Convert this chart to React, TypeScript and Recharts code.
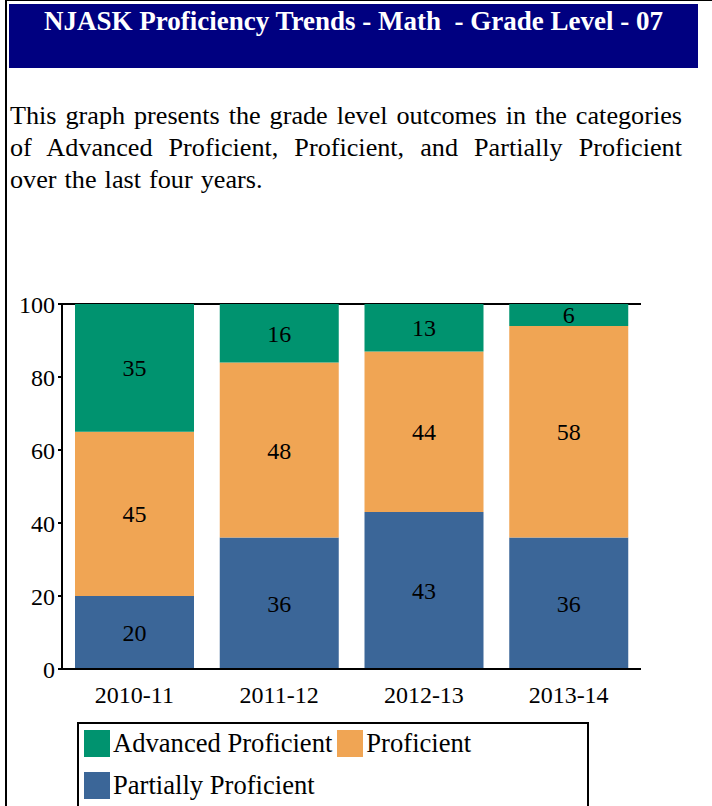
import React from 'react';
import { BarChart, Bar, XAxis, YAxis, CartesianGrid, LabelList, Legend } from 'recharts';

const categories = ['2010-11', '2011-12', '2012-13', '2013-14'];
const partiallyProficient = [20, 36, 43, 36];
const proficient = [45, 48, 44, 58];
const advancedProficient = [35, 16, 13, 6];
const yTicks = [0, 20, 40, 60, 80, 100];

const seriesInfo = [
  { key: 'advanced', name: 'Advanced Proficient', color: '#00936F' },
  { key: 'proficient', name: 'Proficient', color: '#F0A554' },
  { key: 'partial', name: 'Partially Proficient', color: '#3B6698' },
];

const data = categories.map((c, i) => ({
  year: c,
  partial: partiallyProficient[i],
  proficient: proficient[i],
  advanced: advancedProficient[i],
}));

const FONT = "'Liberation Serif', 'Times New Roman', serif";

const LegendBox = () => (
  <div
    style={{
      width: 512,
      height: 90,
      border: '2px solid #000',
      boxSizing: 'border-box',
      fontFamily: FONT,
      fontSize: 26.6,
      color: '#000',
      display: 'flex',
      flexWrap: 'wrap',
      alignContent: 'flex-start',
      paddingTop: 6,
      paddingLeft: 5,
    }}
  >
    {seriesInfo.map((s) => (
      <div key={s.key} style={{ display: 'flex', alignItems: 'center', height: 27, marginRight: 5, marginBottom: 15, whiteSpace: 'nowrap' }}>
        <span style={{ display: 'inline-block', width: 26, height: 27, background: s.color, marginRight: 3 }} />
        <span style={{ lineHeight: '27px' }}>{s.name}</span>
      </div>
    ))}
  </div>
);

export default function App() {
  return (
    <div style={{ position: 'fixed', left: 0, top: 0, width: 712, height: 806, overflow: 'hidden', background: '#fff', fontFamily: FONT }}>
      <div style={{ position: 'absolute', left: 5, top: 0, width: 2, height: 806, background: '#000' }} />
      <div style={{ position: 'absolute', left: 5, top: 0, width: 707, height: 1, background: '#000' }} />
      <div
        style={{
          position: 'absolute',
          left: 9,
          top: 4,
          width: 689,
          height: 64,
          background: '#000080',
          color: '#fff',
          fontWeight: 'bold',
          fontSize: 27,
          lineHeight: '30px',
          paddingTop: 2,
          boxSizing: 'border-box',
          textAlign: 'center',
          whiteSpace: 'pre',
        }}
      >
        {'NJASK Proficiency Trends - Math \u00a0- Grade Level - 07'}
      </div>
      <p
        style={{
          position: 'absolute',
          left: 10,
          top: 100,
          width: 672,
          margin: 0,
          fontSize: 26.2,
          lineHeight: '32px',
          wordSpacing: 1.5,
          textAlign: 'justify',
          color: '#000',
        }}
      >
        This graph presents the grade level outcomes in the categories of Advanced Proficient, Proficient, and Partially Proficient over the last four years.
      </p>
      <div style={{ position: 'absolute', left: 0, top: 280 }}>
        <BarChart
          width={712}
          height={526}
          data={data}
          margin={{ top: 24, right: 71, bottom: 7, left: 8 }}
          barCategoryGap={13}
        >
          <CartesianGrid horizontal vertical={false} stroke="#000" strokeWidth={2} strokeOpacity={1} />
          <XAxis
            dataKey="year"
            tickLine={false}
            axisLine={{ stroke: '#000', strokeWidth: 2 }}
            tick={{ fill: '#000', fontSize: 24, fontFamily: FONT }}
            tickMargin={11}
            height={40}
            interval={0}
          />
          <YAxis
            yAxisId="l"
            domain={[0, 100]}
            ticks={yTicks}
            width={54}
            tickSize={4}
            tickMargin={3}
            tickLine={{ stroke: '#000', strokeWidth: 2 }}
            axisLine={{ stroke: '#000', strokeWidth: 2 }}
            tick={{ fill: '#000', fontSize: 24, fontFamily: FONT }}
            interval={0}
          />
          <YAxis
            yAxisId="r"
            orientation="right"
            domain={[0, 100]}
            width={0}
            tick={false}
            tickLine={false}
            axisLine={{ stroke: '#000', strokeWidth: 2 }}
          />
          <Legend
            verticalAlign="bottom"
            wrapperStyle={{ left: 77, top: 442, width: 512, height: 90 }}
            content={() => <LegendBox />}
          />
          <Bar yAxisId="l" dataKey="partial" name="Partially Proficient" stackId="a" fill="#3B6698" isAnimationActive={false}>
            <LabelList dataKey="partial" position="center" fill="#000" fontSize={24} fontFamily={FONT} />
          </Bar>
          <Bar yAxisId="l" dataKey="proficient" name="Proficient" stackId="a" fill="#F0A554" isAnimationActive={false}>
            <LabelList dataKey="proficient" position="center" fill="#000" fontSize={24} fontFamily={FONT} />
          </Bar>
          <Bar yAxisId="l" dataKey="advanced" name="Advanced Proficient" stackId="a" fill="#00936F" isAnimationActive={false}>
            <LabelList dataKey="advanced" position="center" fill="#000" fontSize={24} fontFamily={FONT} />
          </Bar>
        </BarChart>
      </div>
    </div>
  );
}
